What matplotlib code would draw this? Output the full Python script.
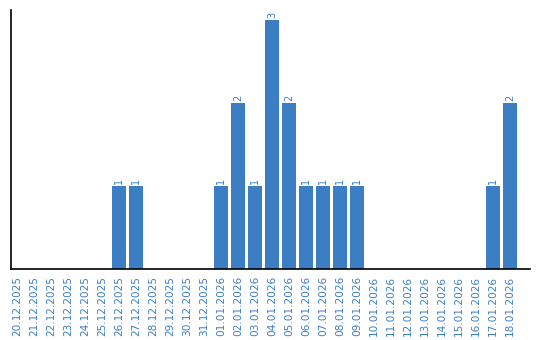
import matplotlib
matplotlib.use("Agg")
import matplotlib.pyplot as plt

dates = ["20.12.2025", "21.12.2025", "22.12.2025", "23.12.2025", "24.12.2025",
         "25.12.2025", "26.12.2025", "27.12.2025", "28.12.2025", "29.12.2025",
         "30.12.2025", "31.12.2025", "01.01.2026", "02.01.2026", "03.01.2026",
         "04.01.2026", "05.01.2026", "06.01.2026", "07.01.2026", "08.01.2026",
         "09.01.2026", "10.01.2026", "11.01.2026", "12.01.2026", "13.01.2026",
         "14.01.2026", "15.01.2026", "16.01.2026", "17.01.2026", "18.01.2026"]
counts = [0, 0, 0, 0, 0, 0, 1, 1, 0, 0, 0, 0, 1, 2, 1, 3, 2, 1, 1, 1,
          1, 0, 0, 0, 0, 0, 0, 0, 1, 2]

blue = "#3b7ec4"

fig = plt.figure(figsize=(5.4, 3.4), dpi=100)
ax = fig.add_axes([11 / 540, 71 / 340, 519 / 540, 259 / 340])

x = list(range(len(dates)))
ax.bar(x, counts, width=0.82, color=blue)
for xi, c in zip(x, counts):
    if c > 0:
        ax.text(xi, c + 0.02, str(c), rotation=90, ha="center", va="bottom",
                fontsize=7, color=blue)

ax.set_xlim(-0.35, 30.18)
ax.set_ylim(0, 3.12)
ax.set_xticks(x)
ax.set_xticklabels(dates, rotation=90, fontsize=7.6, color=blue)
ax.tick_params(axis="x", length=0, pad=5)
ax.set_yticks([])
for s in ["top", "right"]:
    ax.spines[s].set_visible(False)
ax.spines["left"].set_linewidth(1.2)
ax.spines["bottom"].set_linewidth(1.2)

fig.savefig("out.png", dpi=100)
